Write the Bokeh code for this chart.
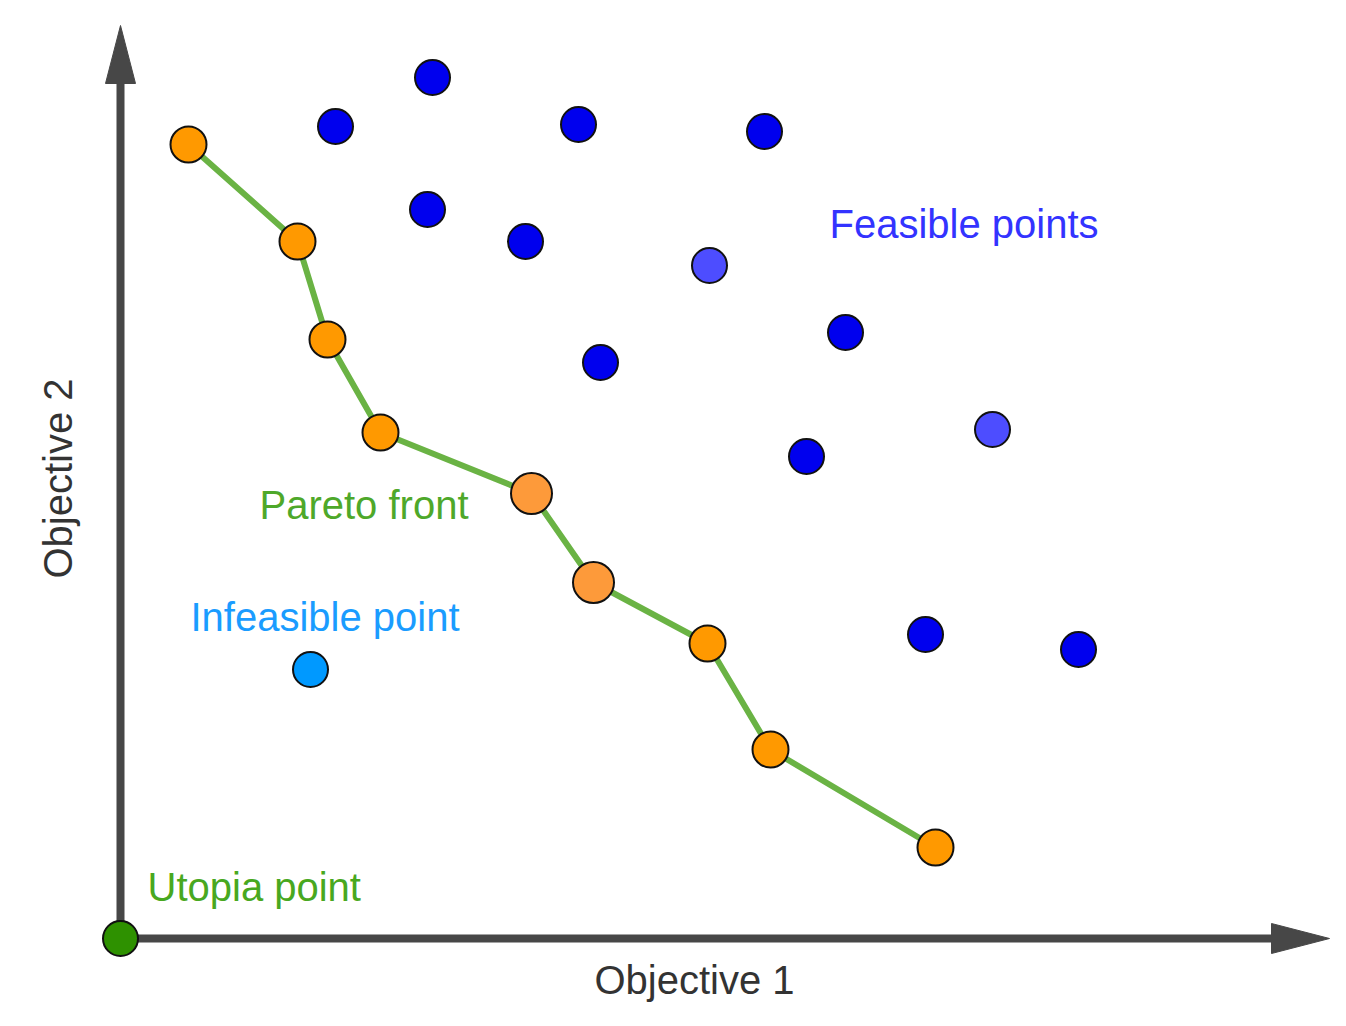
import math
from bokeh.plotting import figure
from bokeh.models import Range1d, Label
from bokeh.embed import file_html
from bokeh.resources import INLINE

# Pareto front points (objective 1, objective 2)
pareto_x = [68, 177, 207, 260, 411, 473, 587, 650, 815]
pareto_y = [794, 697, 599, 506, 445, 356, 295, 189, 91]
pareto_size = [36, 36, 36, 36, 41, 41, 36, 36, 36]
pareto_color = ["#ff9900", "#ff9900", "#ff9900", "#ff9900", "#fd9a3a",
                "#fd9a3a", "#ff9900", "#ff9900", "#ff9900"]

# Feasible (dominated) points
feas_x = [312, 215, 458, 644, 307, 405, 589, 725, 480, 872, 686, 805, 958]
feas_y = [861, 812, 814, 807, 729, 697, 673, 606, 576, 509, 482, 304, 289]
feas_color = ["#0000ee", "#0000ee", "#0000ee", "#0000ee", "#0000ee", "#0000ee",
              "#4d4dff", "#0000ee", "#0000ee", "#4d4dff", "#0000ee", "#0000ee",
              "#0000ee"]

# Infeasible point
infeas_x = [190]
infeas_y = [269]

# Utopia point
utopia_x = [0]
utopia_y = [0]

# Axis extents (arrow tips)
axis_x_end = 1209
axis_y_end = 913

W, H = 1330, 1010
p = figure(width=W, height=H, output_backend="svg", toolbar_location=None,
           x_range=Range1d(-120, 1210), y_range=Range1d(-72, 938),
           min_border=0)
p.axis.visible = False
p.xgrid.visible = False
p.ygrid.visible = False
p.outline_line_color = None
p.background_fill_color = "white"
p.border_fill_color = "white"

axis_color = "#474747"
head_len = 58
head_half = 15

# axis shafts
p.segment(x0=[0, 0], y0=[0, 0], x1=[axis_x_end - head_len, 0],
          y1=[0, axis_y_end - head_len], line_width=8, line_color=axis_color)
# arrow heads
p.patches(xs=[[axis_x_end - head_len, axis_x_end, axis_x_end - head_len],
              [-head_half, 0, head_half]],
          ys=[[-head_half, 0, head_half],
              [axis_y_end - head_len, axis_y_end, axis_y_end - head_len]],
          fill_color=axis_color, line_color=axis_color, line_width=1)

# Pareto front line
p.line(pareto_x, pareto_y, line_color="#6ab344", line_width=6)
p.scatter(pareto_x, pareto_y, size=pareto_size, fill_color=pareto_color,
          line_color="#111111", line_width=2)

p.scatter(feas_x, feas_y, size=35, fill_color=feas_color,
          line_color="#111111", line_width=2)
p.scatter(infeas_x, infeas_y, size=35, fill_color="#0099ff",
          line_color="#111111", line_width=2)
p.scatter(utopia_x, utopia_y, size=35, fill_color="#2e9100",
          line_color="#111111", line_width=2)

font = "Liberation Sans"
fs = "40px"

def lab(text, x, y, color, angle=0.0):
    p.add_layout(Label(x=x, y=y, text=text, text_color=color,
                       text_font=font, text_font_size=fs,
                       text_baseline="alphabetic", text_align="left",
                       angle=angle))

lab("Feasible points", 709, 715, "#3333ff")
lab("Pareto front", 139, 434, "#4ea82a")
lab("Infeasible point", 70, 322, "#1a9cff")
lab("Utopia point", 27, 52, "#48a820")
lab("Objective 1", 474, -41, "#333333")
lab("Objective 2", -63, 360, "#333333", angle=math.pi / 2)

open("out.html", "w").write(file_html(p, INLINE))
